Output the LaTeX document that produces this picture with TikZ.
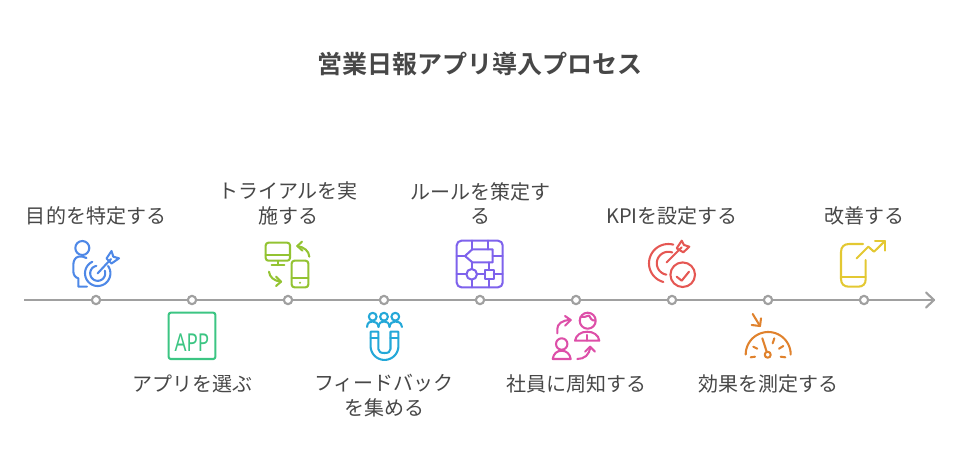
\documentclass[tikz,border=0pt]{standalone}
\usepackage{fontspec}
\setmainfont{Noto Sans CJK JP}[BoldFont={Noto Sans CJK JP Bold}]
\newfontfamily\appfont{Noto Sans}
\definecolor{ink}{HTML}{474747}
\definecolor{axisgray}{HTML}{A0A0A0}
\definecolor{cblue}{HTML}{4E88E7}
\definecolor{cgreen}{HTML}{3CC583}
\definecolor{clime}{HTML}{93C332}
\definecolor{ccyan}{HTML}{24A8D8}
\definecolor{cpurple}{HTML}{7E62EC}
\definecolor{cpink}{HTML}{DD4FA8}
\definecolor{cred}{HTML}{E55753}
\definecolor{corange}{HTML}{E0822D}
\definecolor{cyellow}{HTML}{E3C832}
\newcommand{\arcpts}[5]{plot[domain=#4:#5,samples=40] ({#1+#3*cos(\x)},{#2-#3*sin(\x)})}
\tikzset{
  lab/.style={text=ink,font=\fontsize{15pt}{18.7pt}\selectfont,align=center,inner sep=0pt},
  ttl/.style={text=ink,font=\fontsize{18.75pt}{24pt}\selectfont\bfseries,inner sep=0pt},
  dot/.style={circle,draw=axisgray,fill=white,line width=1.6pt,minimum size=6.2pt,inner sep=0pt},
  icon/.style={line width=1.55pt,line join=round,line cap=round},
}
\begin{document}
\begin{tikzpicture}[x=0.75pt,y=-0.75pt]
\useasboundingbox (0,0) rectangle (959,468);
\node[ttl] (title) at (480,64) {営業日報アプリ導入プロセス};
% axis
\coordinate (axs) at (24,300);
\coordinate (axe) at (934,300);
\draw[axisgray,line width=1.6pt] (axs) -- (axe);
\draw[axisgray,line width=1.6pt,line cap=round,line join=round] (926,292.5) -- (axe) -- (926,307.5);
\foreach \n/\x in {a/96,b/192,c/288,d/384,e/480,f/576,g/672,h/768,i/864}{
  \node[dot] (dot\n) at (\x,300) {};
}
% labels
\node[lab] (la) at (96,215.5) {目的を特定する};
\node[lab] (lb) at (192,383.5) {アプリを選ぶ};
\node[lab] (lc) at (288,203.5) {トライアルを実\\施する};
\node[lab] (ld) at (384,395.5) {フィードバック\\を集める};
\node[lab] (le) at (480,203.5) {ルールを策定す\\る};
\node[lab] (lf) at (576,383.5) {社員に周知する};
\node[lab] (lg) at (672,215.5) {KPIを設定する};
\node[lab] (lh) at (768,383.5) {効果を測定する};
\node[lab] (li) at (864,215.5) {改善する};
% 1 blue
\begin{scope}[icon,cblue]
\draw (82.3,248) circle[radius=7];
\draw (86.5,258) .. controls (84,256.5) and (81,256.3) .. (78.3,256.7) .. controls (75,257.5) and (73.3,261) .. (73.3,265) -- (73.3,271) .. controls (73.3,274.5) and (75,277.5) .. (78.3,278.3) -- (78.3,286.7) -- (87,286.7);
\draw \arcpts{97.7}{273.3}{12.7}{-245}{35};
\draw \arcpts{97.7}{273.3}{7.5}{-260}{20};
\draw (97.7,273.3) -- (111,259);
\draw (106.5,258.5) -- (111.5,251) -- (113.3,256.7) -- (119,258.3) -- (111.5,263.5) -- (106.5,258.5);
\end{scope}
% 2 green
\begin{scope}[icon,cgreen]
\draw[rounded corners=1.5pt] (168.7,312.7) rectangle (215.3,359);
\node[inner sep=0pt,text=cgreen,xscale=0.76,font=\appfont\fontsize{18.5pt}{18.5pt}\selectfont] (apptext) at (192,343) {APP};
\end{scope}
% 3 lime
\begin{scope}[icon,clime]
\draw[rounded corners=2pt] (265.7,242.7) rectangle (290,260.7);
\draw (265.7,255) -- (290,255);
\draw (278.3,261) -- (278.3,265) (271.7,265) -- (284.3,265);
\draw[rounded corners=2pt] (291.7,260.7) rectangle (308.3,287.3);
\draw (291.7,278.3) -- (308.3,278.3);
\fill (300,282.7) circle[radius=1.2];
\draw (309.3,256.7) .. controls (309,251) and (304,247) .. (297.3,246);
\draw (302,241.7) -- (297.3,246) -- (302.5,250.7);
\draw (269,271.7) .. controls (269.5,277) and (274,281) .. (281,281.7);
\draw (276,276.7) -- (281,281.7) -- (276,286);
\end{scope}
% 4 cyan
\begin{scope}[icon,ccyan]
\draw (370.7,331.7) -- (378.3,331.7) -- (378.3,349) .. controls (378.3,352) and (381,353) .. (384.5,353) .. controls (388,353) and (390.5,352) .. (390.5,349) -- (390.5,331.7) -- (398.3,331.7) -- (398.3,346) \arcpts{384.5}{346}{13.9}{0}{-180} -- (370.7,331.7);
\draw (370.7,338.3) -- (378.3,338.3) (390.5,338.3) -- (398.3,338.3);
\foreach \hx in {372.7,384,395.3}{\draw (\hx,316.7) circle[radius=3.9];}
\draw (367,327) .. controls (367.5,322) and (370,321.5) .. (372.7,321.5) .. controls (375.5,321.5) and (378,323) .. (378.5,327);
\draw (378.5,327) .. controls (379,322.5) and (381,321.5) .. (384,321.5) .. controls (387,321.5) and (389,322.5) .. (389.5,327);
\draw (389.5,327) .. controls (390,323) and (392.5,321.5) .. (395.3,321.5) .. controls (398,321.5) and (401,322) .. (402,327);
\end{scope}
% 5 purple
\begin{scope}[icon,cpurple]
\draw[rounded corners=3.5pt] (456.7,240.7) rectangle (502.7,287.3);
\draw (465,256) -- (472.3,249.3) -- (492.7,249.3) -- (492.7,262.3) -- (472.3,262.3) -- cycle;
\draw (472.3,240.7) -- (472.3,249.3) (488.3,240.7) -- (488.3,249.3);
\draw (456.7,256) -- (465,256) (492.7,256) -- (502.7,256);
\draw (472.3,262.3) -- (472.3,269) (489.3,262.3) -- (489.3,270);
\draw (471.7,274.3) circle[radius=5.3];
\draw (485,270) rectangle (493.7,279);
\draw (456.7,274.3) -- (466.4,274.3) (477,274.3) -- (485,274.3) (493.7,274.3) -- (502.7,274.3);
\draw (471.7,279.6) -- (471.7,287.3) (489.3,279) -- (489.3,287.3);
\end{scope}
% 6 pink
\begin{scope}[icon,cpink]
\draw (587.7,320.7) circle[radius=8];
\draw (580.5,317) .. controls (584,318) and (586,316) .. (589,315.5) .. controls (590,318) and (592,321) .. (595,320.5);
\draw (575,340.7) .. controls (576,335) and (581,331.7) .. (587.2,331.7) .. controls (593.5,331.7) and (598.5,335) .. (599.3,340.7) -- cycle;
\draw (587.2,335) -- (587.2,340.7);
\draw (561.7,344) circle[radius=5.7];
\draw (552.7,359) .. controls (553.5,354) and (556.5,350.7) .. (561.7,350.7) .. controls (566.5,350.7) and (570,354) .. (570.7,359) -- cycle;
\draw (557.3,333.3) -- (557.3,329) .. controls (557.3,324) and (562,320) .. (570.7,320);
\draw (565,316) -- (570.7,320) -- (565,325.7);
\draw (577.3,359) .. controls (584,359) and (590,355) .. (590,346.7);
\draw (585,351.7) -- (590,346.7) -- (595,351.7);
\end{scope}
% 7 red
\begin{scope}[icon,cred]
\draw (682.7,274.7) circle[radius=12.3];
\draw (676.7,276.7) -- (681.7,280.7) -- (689,271.7);
\draw \arcpts{668.3}{263.3}{19.3}{75}{255};
\draw \arcpts{668.3}{263.3}{11.5}{70}{260};
\draw (666.7,262.3) -- (681.7,247.3);
\draw (676.7,248.3) -- (681.7,240.7) -- (684,245) -- (689.3,246.7) -- (683.3,252.3) -- (676.7,248.3);
\end{scope}
% 8 orange
\begin{scope}[icon,corange]
\draw (752.7,314) -- (760,326);
\draw (751.7,325) -- (760,326) -- (761,318.3);
\draw \arcpts{768.2}{354.5}{22.5}{0}{180};
\draw (762.3,338.3) -- (766.7,351.7);
\draw (767.7,354.7) circle[radius=3];
\draw (753.3,346.7) -- (757.3,348.7);
\draw (774.3,338.3) -- (772.7,343.3);
\draw (783.3,346) -- (779,348.7);
\draw (750.7,357.3) -- (755,356.7);
\draw (780.7,356.7) -- (785.3,357.3);
\end{scope}
% 9 yellow
\begin{scope}[icon,cyellow]
\draw (863,244) -- (849,244) .. controls (844,244) and (841,247) .. (841,252) -- (841,279) .. controls (841,284) and (844,286.7) .. (849,286.7) -- (858,286.7) .. controls (863,286.7) and (865.7,284) .. (865.7,279) -- (865.7,260);
\draw (841,277.3) -- (865.7,277.3);
\draw (856.7,258.3) -- (868.3,246.7) -- (874,251.7) -- (885,241);
\draw (875,241) -- (885,241) -- (885,250.7);
\end{scope}
\end{tikzpicture}
\end{document}
